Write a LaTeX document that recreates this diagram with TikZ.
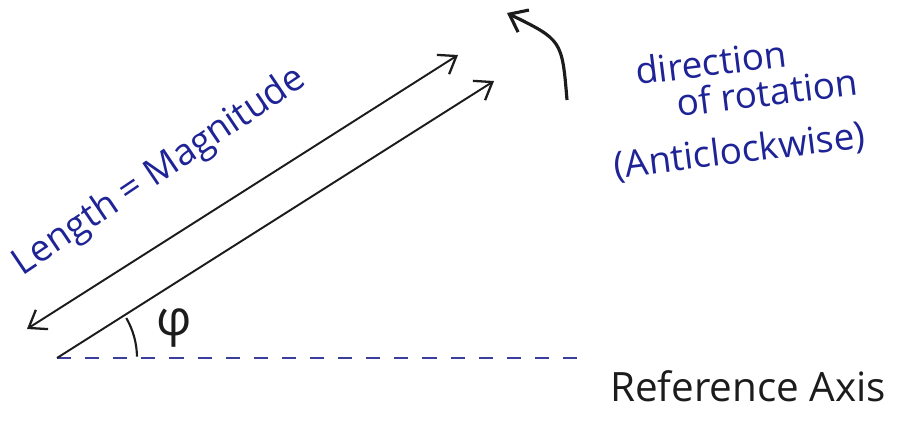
\documentclass[tikz,border=0pt]{standalone}
\usepackage{fontspec}
\setmainfont{Open Sans}
\usetikzlibrary{arrows.meta}
\definecolor{inkblue}{HTML}{1E2396}
\definecolor{dashblue}{HTML}{3A3F9E}
\definecolor{pencil}{HTML}{1C1C1C}

\begin{document}
\begin{tikzpicture}[
  every node/.style={inner sep=0pt},
  vec/.style={draw=pencil, line width=1.1pt, -{Straight Barb[length=9pt,width=13pt,line width=1.3pt]}},
  twohead/.style={vec, {Straight Barb[length=9pt,width=13pt,line width=1.3pt]}-{Straight Barb[length=9pt,width=13pt,line width=1.3pt]}},
  axisline/.style={draw=dashblue, line width=1.3pt, dash pattern=on 8pt off 8pt},
  bluetxt/.style={text=inkblue, font=\fontsize{21}{25}\selectfont},
  blacktxt/.style={text=pencil, font=\fontsize{23}{27}\selectfont},
  x=0.02cm, y=-0.02cm
]
\useasboundingbox (0,0) rectangle (912,428);

% Origin and axis end
\coordinate (o)    at (57,358);
\coordinate (axend) at (585,358);
\coordinate (tip)  at (494,81);
\coordinate (magl) at (27,329);
\coordinate (magr) at (458,55);

% Reference axis (dashed)
\draw[axisline] (o) -- (axend);
\node[blacktxt] (refaxis) at (748,386) {Reference Axis};

% Phasor and its length marker
\draw[vec] (o) -- (tip);
\draw[twohead] (magl) -- (magr);
\node[bluetxt, rotate=34] (length) at (160,172) {Length = Magnitude};

% Angle phi (y runs downwards, so angles are negative)
\draw[pencil, line width=1.2pt] ([shift={(-1:80)}]o) arc[start angle=-1, end angle=-30, radius=80];
\node[blacktxt, font=\fontsize{28}{30}\selectfont] (phi) at (174,328) {φ};

% Direction of rotation
\coordinate (rotbot) at (567,100);
\coordinate (rottop) at (507,13);
\draw[pencil, line width=1.8pt, -{Straight Barb[length=9pt,width=14pt,line width=1.8pt]}]
  (rotbot) .. controls (562,40) .. (rottop);
\node[bluetxt, rotate=7] (dir1) at (711,62) {direction};
\node[bluetxt, rotate=7] (dir2) at (767,92) {of rotation};
\node[bluetxt, rotate=7] (dir3) at (740,152) {(Anticlockwise)};

\end{tikzpicture}
\end{document}
